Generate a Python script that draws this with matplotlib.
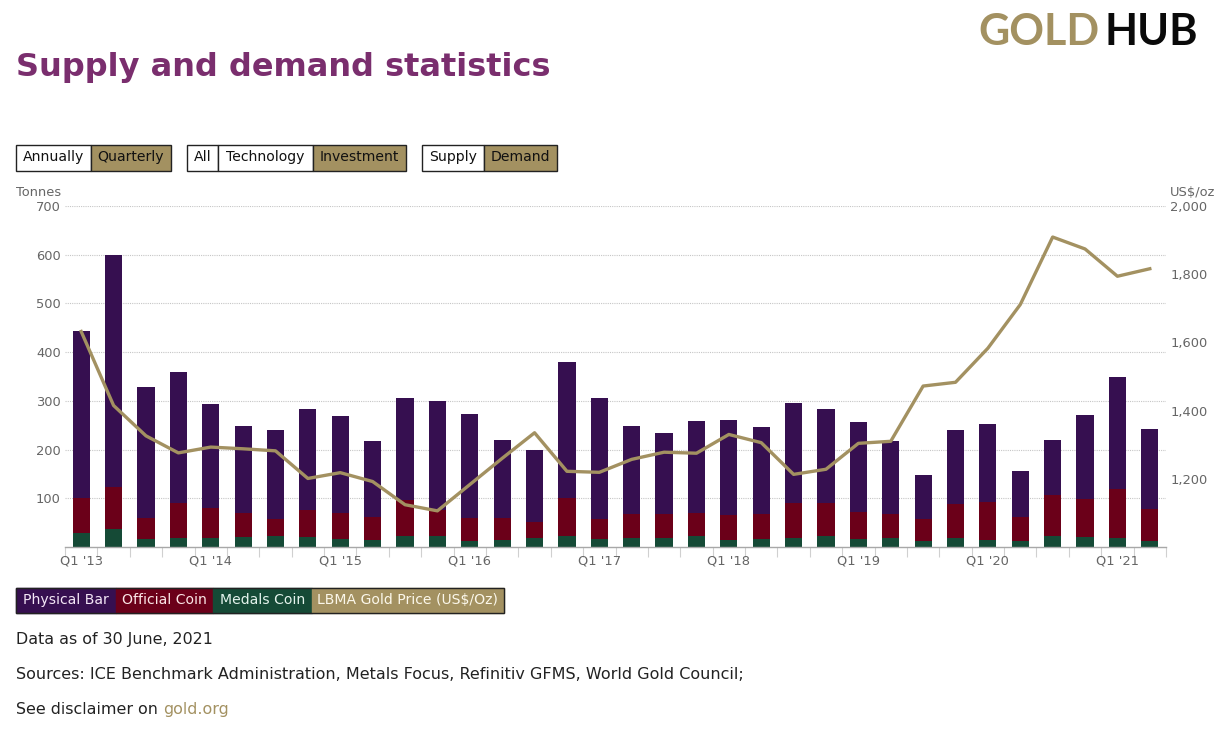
import matplotlib
matplotlib.use("Agg")
import matplotlib.pyplot as plt
from matplotlib.patches import Rectangle

W, H = 1216, 735
PURPLE, RED, GREEN, GOLD = "#360f50", "#6b0019", "#154a36", "#a39161"
GREY = "#666666"

quarters = [f"Q{q} '{y}" for y in range(13, 22) for q in range(1, 5)][:34]
medals = [28, 37, 16, 19, 19, 21, 22, 21, 16, 14, 22, 22,
          12, 14, 19, 22, 16, 19, 19, 22, 14, 16, 19, 22,
          16, 19, 13, 19, 14, 13, 22, 21, 19, 13]
official_top = [100, 124, 60, 90, 81, 70, 58, 76, 69, 61, 96, 75,
                60, 59, 52, 100, 58, 68, 68, 69, 66, 68, 90, 90,
                71, 68, 57, 89, 92, 62, 106, 98, 119, 77]
total = [443, 600, 328, 360, 293, 249, 241, 284, 268, 218, 305, 300,
         272, 220, 200, 380, 305, 249, 233, 259, 261, 247, 296, 284,
         257, 218, 148, 241, 253, 156, 220, 270, 350, 243]
price = [1632, 1415, 1326, 1276, 1293, 1288, 1282, 1201, 1218, 1192, 1124, 1106,
         1183, 1260, 1335, 1222, 1219, 1257, 1278, 1275, 1330, 1306, 1213, 1228,
         1304, 1310, 1472, 1483, 1583, 1711, 1909, 1874, 1794, 1816]
left_ticks = [100, 200, 300, 400, 500, 600, 700]
right_ticks = [1200, 1400, 1600, 1800, 2000]

official = [t - m for t, m in zip(official_top, medals)]
physical = [t - o for t, o in zip(total, official_top)]
x = list(range(len(quarters)))

plt.rcParams["font.family"] = "DejaVu Sans"
fig = plt.figure(figsize=(W / 100, H / 100), dpi=100)
L, R, T, B = 65, 1166, 206, 547
ax = fig.add_axes([L / W, 1 - B / H, (R - L) / W, (B - T) / H])
ax.set_xlim(-0.5, len(x) - 0.5)
ax.set_ylim(0, 700)
ax.bar(x, medals, 0.53, color=GREEN, zorder=3)
ax.bar(x, official, 0.53, bottom=medals, color=RED, zorder=3)
ax.bar(x, physical, 0.53, bottom=official_top, color=PURPLE, zorder=3)
ax.set_yticks(left_ticks)
ax.set_yticklabels([str(v) for v in left_ticks], fontsize=9.4, color=GREY)
ax.tick_params(axis="y", length=0, pad=3)
ax.grid(axis="y", color="#c6c6c6", lw=0.8, ls=(0, (1, 1)), zorder=0)
ax.set_xticks([i - 0.5 for i in x] + [len(x) - 0.5])
ax.set_xticklabels([])
ax.tick_params(axis="x", length=7, color="#d0d0d0", width=0.8)
for i, q in enumerate(quarters):
    if i % 4 == 0:
        ax.text(i, -29, q, ha="center", va="center", fontsize=9.4, color=GREY, clip_on=False)
for s in ["top", "left", "right"]:
    ax.spines[s].set_visible(False)
ax.spines["bottom"].set_color("#a8a8a8")
ax.spines["bottom"].set_linewidth(1.0)
ax.spines["bottom"].set_zorder(4)

ax2 = ax.twinx()
ax2.set_ylim(1000, 2000)
ax2.plot(x, price, color=GOLD, lw=2.4, zorder=5)
ax2.set_yticks(right_ticks)
ax2.set_yticklabels([f"{v:,}" for v in right_ticks], fontsize=9.4, color=GREY)
ax2.tick_params(axis="y", length=0, pad=3)
for s in ax2.spines.values():
    s.set_visible(False)

ov = fig.add_axes([0, 0, 1, 1], zorder=10)
ov.set_xlim(0, W)
ov.set_ylim(H, 0)
ov.axis("off")
ov.patch.set_alpha(0)

def box(x0, x1, y0, y1, label, bg, fg, edge="#222222", size=10.05):
    ov.add_patch(Rectangle((x0, y0), x1 - x0, y1 - y0, fc=bg, ec=edge, lw=1))
    ov.text((x0 + x1) / 2, (y0 + y1) / 2 - 0.5, label, ha="center", va="center", color=fg, fontsize=size)

buttons = [(16, 91, "Annually", False), (91, 170.5, "Quarterly", True),
           (187, 218, "All", False), (218, 313, "Technology", False), (313, 405.5, "Investment", True),
           (422, 484, "Supply", False), (484, 556.5, "Demand", True)]
for x0, x1, lab, on in buttons:
    box(x0, x1, 144.5, 170.5, lab, GOLD if on else "white", "#111111")

legend = [(16, 116, "Physical Bar", PURPLE, "#f3e6f6"), (116, 213, "Official Coin", RED, "#fbe6e6"),
          (213, 312, "Medals Coin", GREEN, "#e4f3ec"), (312, 503.5, "LBMA Gold Price (US$/Oz)", GOLD, "#fbf7ea")]
for x0, x1, lab, c, fg in legend:
    box(x0, x1, 587.5, 613, lab, c, fg, edge=c)
ov.add_patch(Rectangle((16, 587.5), 487.5, 25.5, fc="none", ec="#222222", lw=1))

ov.text(16, 67, "Supply and demand statistics", fontsize=23.08, fontweight="bold",
        color="#7a2e6e", va="center", ha="left")
ov.text(16, 192.5, "Tonnes", fontsize=9.4, color=GREY, va="center")
ov.text(1170, 192.5, "US$/oz", fontsize=9.4, color=GREY, va="center")
ov.text(16, 639.5, "Data as of 30 June, 2021", fontsize=11.45, color="#222222", va="center")
ov.text(16, 674.5, "Sources: ICE Benchmark Administration, Metals Focus, Refinitiv GFMS, World Gold Council;",
        fontsize=11.5, color="#222222", va="center")
ov.text(16, 709.5, "See disclaimer on ", fontsize=11.45, color="#222222", va="center")
ov.text(163, 709.5, "gold.org", fontsize=11.45, color=GOLD, va="center")
ov.text(1100, 32, "GOLD", fontsize=31, color=GOLD, ha="right", va="center", family="Lato", fontweight="bold")
ov.text(1105, 32, "HUB", fontsize=31, color="#0a0a0a", ha="left", va="center", family="Lato", fontweight="bold")

fig.savefig("out.png", dpi=100)
